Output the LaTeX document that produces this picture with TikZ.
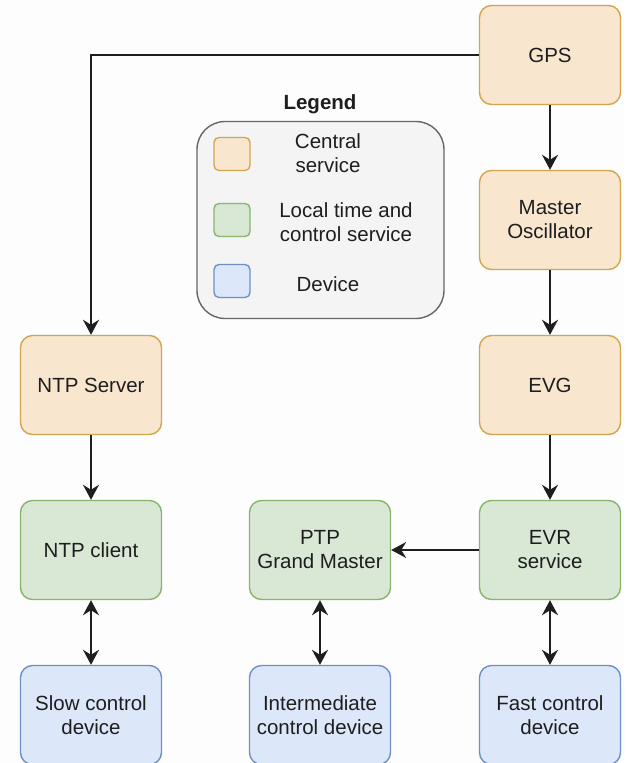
\documentclass[tikz,border=0pt]{standalone}
\usepackage{fontspec}
\setmainfont{Liberation Sans}
\usetikzlibrary{arrows.meta}
\definecolor{orfill}{HTML}{F9E6CF}
\definecolor{ordraw}{HTML}{D2A64E}
\definecolor{grfill}{HTML}{D8E8D5}
\definecolor{grdraw}{HTML}{89B46E}
\definecolor{blfill}{HTML}{DCE7FA}
\definecolor{bldraw}{HTML}{7090C2}
\definecolor{lgfill}{HTML}{F4F4F4}
\definecolor{lgdraw}{HTML}{666666}
\definecolor{txt}{HTML}{1E1E1E}
\definecolor{bg}{HTML}{FDFDFD}
\tikzset{
  box/.style={rounded corners=12pt, line width=1.4pt, minimum width=141pt, minimum height=99pt,
    align=center, font=\fontsize{20.5}{24}\selectfont, text=txt, inner sep=2pt},
  central/.style={box, fill=orfill, draw=ordraw},
  local/.style={box, fill=grfill, draw=grdraw},
  device/.style={box, fill=blfill, draw=bldraw},
  swatch/.style={rounded corners=5pt, line width=1.4pt, minimum width=36pt, minimum height=33pt, inner sep=0pt},
  ltext/.style={align=center, font=\fontsize{20.5}{24}\selectfont, text=txt},
  tip/.tip={Stealth[length=15pt,width=16pt,inset=5pt]},
  conn/.style={line width=2pt, draw=txt, -tip},
  dconn/.style={line width=2pt, draw=txt, tip-tip}
}
\begin{document}
\begin{tikzpicture}[x=1pt,y=-1pt]
\useasboundingbox (0,0) rectangle (625,763);
\clip (0,0) rectangle (625,763);
\fill[bg] (0,0) rectangle (625,763);
% nodes
\node[central] (gps) at (550,55) {GPS};
\node[central] (mo) at (550,220) {Master\\Oscillator};
\node[central] (evg) at (550,385) {EVG};
\node[local] (evr) at (550,550) {EVR\\service};
\node[device] (fast) at (550,715) {Fast control\\device};
\node[central] (ntps) at (91,385) {NTP Server};
\node[local] (ntpc) at (91,550) {NTP client};
\node[device] (slow) at (91,715) {Slow control\\device};
\node[local] (ptp) at (320,550) {PTP\\Grand Master};
\node[device] (inter) at (320,715) {Intermediate\\control device};
% legend
\node[font=\bfseries\fontsize{20.5}{24}\selectfont, text=txt] (lgtitle) at (320,104) {Legend};
\node[rounded corners=28pt, fill=lgfill, draw=lgdraw, line width=1.4pt, minimum width=247pt, minimum height=197pt] (legend) at (320.5,220) {};
\node[swatch, fill=orfill, draw=ordraw] (sw1) at (232,154) {};
\node[swatch, fill=grfill, draw=grdraw] (sw2) at (232,220) {};
\node[swatch, fill=blfill, draw=bldraw] (sw3) at (232,281) {};
\node[ltext] (l1) at (328,153) {Central\\service};
\node[ltext] (l2) at (346,222) {Local time and\\control service};
\node[ltext] (l3) at (328,284) {Device};
% connectors
\coordinate (c1) at (91,55);
\draw[conn] (gps.west) -- (c1) -- (ntps.north);
\draw[conn] (gps) -- (mo);
\draw[conn] (mo) -- (evg);
\draw[conn] (evg) -- (evr);
\draw[conn] (ntps) -- (ntpc);
\draw[conn] (evr) -- (ptp);
\draw[dconn] (ntpc) -- (slow);
\draw[dconn] (ptp) -- (inter);
\draw[dconn] (evr) -- (fast);
\end{tikzpicture}
\end{document}
